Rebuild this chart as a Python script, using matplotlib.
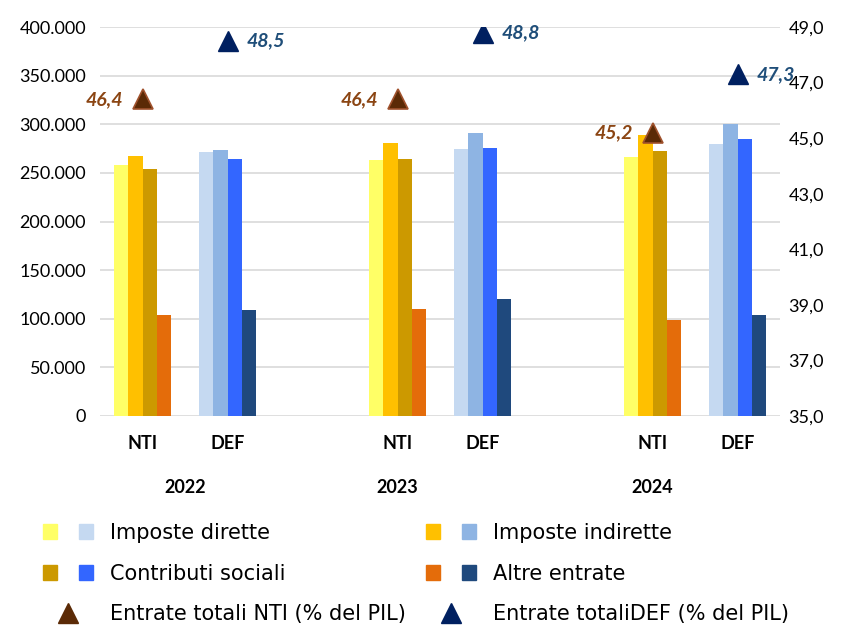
import matplotlib.pyplot as plt
import numpy as np
from matplotlib.patches import Patch
from matplotlib.lines import Line2D
from matplotlib.legend_handler import HandlerTuple
from matplotlib.ticker import FuncFormatter
import matplotlib.transforms as mtransforms

plt.rcParams['font.family'] = ['Lato', 'DejaVu Sans']

years = ['2022', '2023', '2024']
series = ['Imposte dirette', 'Imposte indirette', 'Contributi sociali', 'Altre entrate']

# values per year, order of series above
nti = np.array([
    [258000, 267500, 253500, 104000],
    [263000, 281000, 264000, 110500],
    [266500, 289000, 272500, 99000],
])
deff = np.array([
    [271000, 273500, 264000, 109000],
    [274500, 290500, 276000, 120000],
    [279500, 300000, 284500, 104000],
])
nti_pil = [46.4, 46.4, 45.2]
def_pil = [48.5, 48.8, 47.3]

nti_colors = ['#FFFF66', '#FFC000', '#CC9900', '#E46C0A']
def_colors = ['#C5D9F1', '#8EB4E3', '#3366FF', '#1F497D']

# slots: NTI, DEF for each year, one empty slot between years
nti_pos = np.array([0, 3, 6])
def_pos = nti_pos + 1
year_centers = [0.5, 3, 6]

fig = plt.figure(figsize=(8.42, 6.26), dpi=100)
ax = fig.add_axes([100 / 842, 1 - 416 / 626, 680 / 842, 389 / 626])

width = 0.17
offsets = (np.arange(4) - 1.5) * width
for i in range(4):
    ax.bar(nti_pos + offsets[i], nti[:, i], width, color=nti_colors[i], zorder=3)
    ax.bar(def_pos + offsets[i], deff[:, i], width, color=def_colors[i], zorder=3)

ax.set_xlim(-0.5, 7.5)
ax.set_ylim(0, 400000)
ax.set_yticks(np.arange(0, 400001, 50000))
ax.yaxis.set_major_formatter(FuncFormatter(lambda v, p: f'{int(v):,}'.replace(',', '.')))
ax.grid(axis='y', color='#D9D9D9', linewidth=1.2, zorder=0)
ax.set_axisbelow(True)
for s in ax.spines.values():
    s.set_visible(False)
ax.tick_params(axis='y', length=0, labelsize=13, pad=10)

xt = list(nti_pos) + list(def_pos)
xl = ['NTI'] * 3 + ['DEF'] * 3
ax.set_xticks(xt)
ax.set_xticklabels(xl, fontsize=13, fontweight='bold')
ax.tick_params(axis='x', length=0, pad=14)

trans = mtransforms.blended_transform_factory(ax.transData, ax.transAxes)
for yc, yr in zip(year_centers, years):
    ax.text(yc, -0.183, yr, transform=trans, ha='center', va='center',
            fontsize=13, fontweight='bold')

ax2 = ax.twinx()
ax2.set_ylim(35, 49)
ax2.set_yticks(np.arange(35, 49.1, 2))
ax2.yaxis.set_major_formatter(FuncFormatter(lambda v, p: f'{v:.1f}'.replace('.', ',')))
ax2.tick_params(axis='y', length=0, labelsize=13, pad=6)
for s in ax2.spines.values():
    s.set_visible(False)

ax2.plot(nti_pos, nti_pil, linestyle='none', marker='^', ms=15,
         color='#5B2A06', markeredgecolor='#A0522D', markeredgewidth=1.2, zorder=5)
ax2.plot(def_pos, def_pil, linestyle='none', marker='^', ms=15,
         color='#002060', markeredgecolor='#002060', zorder=5)
for x, v in zip(nti_pos, nti_pil):
    ax2.annotate(f'{v:.1f}'.replace('.', ','), (x, v), xytext=(-14, 0),
                 textcoords='offset points', ha='right', va='center',
                 fontsize=14, fontweight='bold', fontstyle='italic', color='#8B4513')
for x, v in zip(def_pos, def_pil):
    ax2.annotate(f'{v:.1f}'.replace('.', ','), (x, v), xytext=(14, 0),
                 textcoords='offset points', ha='left', va='center',
                 fontsize=14, fontweight='bold', fontstyle='italic', color='#1F4E79')

# legend
handles = [
    (Patch(color=nti_colors[0]), Patch(color=def_colors[0])),
    (Patch(color=nti_colors[2]), Patch(color=def_colors[2])),
    Line2D([], [], ls='none', marker='^', ms=14, color='#5B2A06'),
    (Patch(color=nti_colors[1]), Patch(color=def_colors[1])),
    (Patch(color=nti_colors[3]), Patch(color=def_colors[3])),
    Line2D([], [], ls='none', marker='^', ms=14, color='#002060'),
]
labels = ['Imposte dirette', 'Contributi sociali', 'Entrate totali NTI (% del PIL)',
          'Imposte indirette', 'Altre entrate', 'Entrate totaliDEF (% del PIL)']
fig.legend(handles, labels, ncol=2, loc='upper left',
           bbox_to_anchor=(0.051, 0.165),
           handler_map={tuple: HandlerTuple(ndivide=None, pad=1.06)},
           handlelength=2.4, handleheight=0.7, handletextpad=0.8,
           labelspacing=1.0, columnspacing=1.0,
           prop={'family': 'DejaVu Sans', 'size': 15},
           frameon=False, borderaxespad=0, borderpad=0)

fig.savefig('out.png', dpi=100)
